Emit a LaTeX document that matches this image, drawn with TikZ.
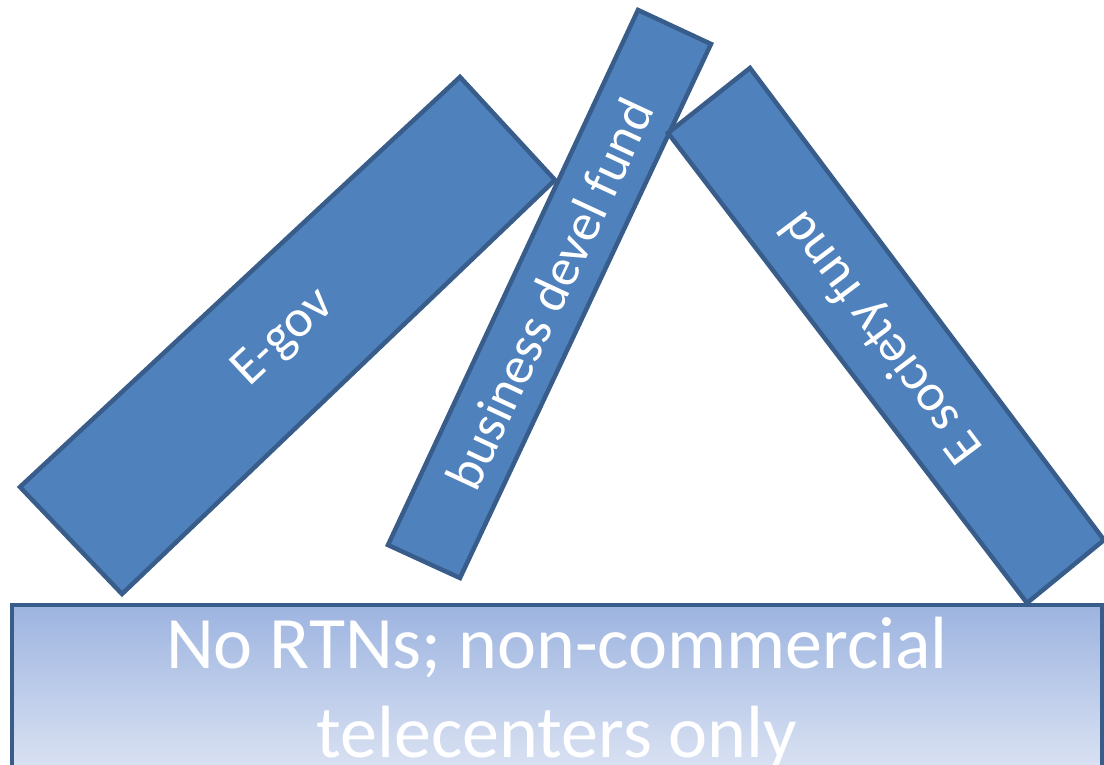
\documentclass[tikz,border=0pt]{standalone}
\usepackage{fontspec}
\setmainfont{Carlito}
\definecolor{boxfill}{HTML}{4F81BD}
\definecolor{boxline}{HTML}{385D8A}
\definecolor{basetop}{HTML}{9DB4E0}
\definecolor{basebot}{HTML}{E2E8F5}
\begin{document}
\begin{tikzpicture}[x=1pt,y=-1pt,
  plank/.style={fill=boxfill,draw=boxline,line width=4.5pt,line join=miter},
  planktext/.style={text=white,font=\fontsize{53}{60}\selectfont,inner sep=0pt}]
\useasboundingbox (0,0) rectangle (1104,765);
\clip (0,0) rectangle (1104,765);
% E-gov
\draw[plank] (20,487) -- (460,77) -- (555,180) -- (122,594) -- cycle;
\node[planktext,rotate=43] (egov) at (284,338) {E-gov};
% business devel fund
\draw[plank] (388,545) -- (638,10) -- (711,44) -- (460,578) -- cycle;
\node[planktext,rotate=65] (bdf) at (549.5,294) {business devel fund};
% E society fund
\draw[plank] (668,133) -- (750,68) -- (1104,540) -- (1027,603) -- cycle;
\node[planktext,rotate=127] (esf) at (883,337) {E society fund};
% base
\shade[top color=basetop,bottom color=basebot,draw=boxline,line width=4.5pt]
  (12,605) rectangle (1102,790);
\node[text=white,font=\fontsize{74}{89}\selectfont,align=center,anchor=north,inner sep=0pt] (base) at (557,617) {No RTNs; non-commercial\\telecenters only};
\end{tikzpicture}
\end{document}
